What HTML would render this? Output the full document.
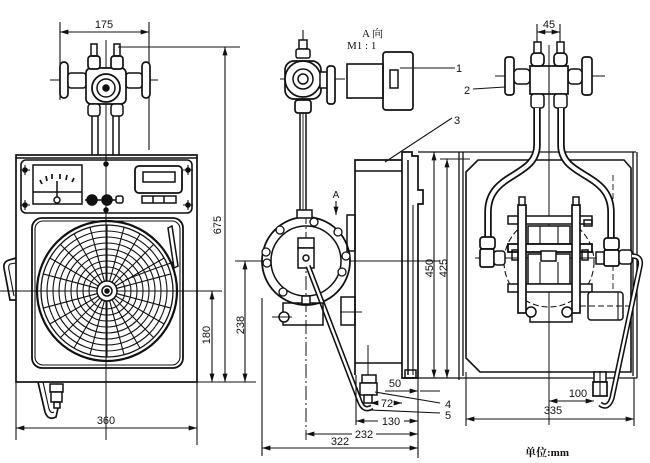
<!DOCTYPE html>
<html><head><meta charset="utf-8"><style>
html,body{margin:0;padding:0;background:#fff;}
svg{display:block;}
text{font-family:"Liberation Sans",sans-serif;font-size:11px;fill:#111;stroke:none;}
</style></head><body>
<svg width="650" height="463" viewBox="0 0 650 463" xmlns="http://www.w3.org/2000/svg">
<defs>
<marker id="ar" viewBox="0 0 10 6" refX="10" refY="3" markerWidth="9" markerHeight="5" markerUnits="userSpaceOnUse" orient="auto-start-reverse"><path d="M0,0 L10,3 L0,6 z" fill="#111"/></marker>
<line id="rl" x1="41" y1="291" x2="173" y2="291"/>
</defs>
<rect width="650" height="463" fill="#fff"/>
<g fill="none" stroke="#111" stroke-width="1.5">

<!-- ===== LEFT VIEW ===== -->
<line x1="60" y1="22" x2="60" y2="100" stroke-width="1.1"/>
<line x1="149" y1="22" x2="149" y2="150" stroke-width="1.1"/>
<line x1="60" y1="32" x2="149" y2="32" stroke-width="1.1" marker-start="url(#ar)" marker-end="url(#ar)"/>
<line x1="118" y1="47" x2="240" y2="47" stroke-width="1.1"/>
<line x1="225" y1="47" x2="225" y2="382" stroke-width="1.1" marker-start="url(#ar)" marker-end="url(#ar)"/>
<line x1="197" y1="382" x2="240" y2="382" stroke-width="1.1"/>
<line x1="212" y1="291" x2="212" y2="382" stroke-width="1.1" marker-start="url(#ar)" marker-end="url(#ar)"/>
<line x1="0" y1="291" x2="222" y2="291" stroke-width="1.1"/>
<line x1="106" y1="40" x2="106" y2="440" stroke-width="1"/>
<line x1="50" y1="80" x2="158" y2="80" stroke-width="1"/>

<!-- valve -->
<rect x="60" y="62" width="8" height="36" rx="4" fill="#fff" stroke-width="1.7"/>
<rect x="142" y="62" width="8" height="36" rx="4" fill="#fff" stroke-width="1.7"/>
<rect x="68" y="73" width="18" height="15" rx="3" fill="#fff"/>
<rect x="126" y="73" width="16" height="15" rx="3" fill="#fff"/>
<rect x="86" y="68" width="40" height="36" rx="5" fill="#fff" stroke-width="1.7"/>
<circle cx="106" cy="88" r="14" fill="#fff" stroke-width="1.8"/>
<circle cx="106" cy="88" r="9"/>
<circle cx="106" cy="88" r="3" fill="#111"/>
<rect x="88" y="56" width="12" height="13" rx="3" fill="#fff" stroke-width="1.7"/>
<rect x="111" y="56" width="12" height="13" rx="3" fill="#fff" stroke-width="1.7"/>
<rect x="91" y="44" width="6" height="12"/>
<rect x="114" y="44" width="6" height="12"/>
<rect x="88" y="104" width="12" height="12" rx="3" fill="#fff"/>
<rect x="111" y="104" width="12" height="12" rx="3" fill="#fff"/>
<line x1="92" y1="116" x2="92" y2="155"/><line x1="98" y1="116" x2="98" y2="155"/>
<line x1="113" y1="116" x2="113" y2="155"/><line x1="119" y1="116" x2="119" y2="155"/>

<!-- box -->
<rect x="16" y="155" width="181" height="227" stroke-width="1.7"/>
<line x1="16" y1="158" x2="197" y2="158"/>
<rect x="21" y="160" width="171" height="53" rx="5" stroke-width="1.6"/>
<rect x="33" y="165" width="49" height="39" fill="#fff"/>
<line x1="33" y1="192" x2="82" y2="192"/>
<path d="M40,180 L42,184 M46,176 L47,181 M52,174 L52,179 M60,174 L60,179 M67,175 L66,180 M74,178 L72,182" stroke-width="1.7"/>
<line x1="57" y1="181" x2="57" y2="197"/>
<circle cx="57" cy="200" r="3" fill="#fff"/>
<line x1="85" y1="200" x2="116" y2="200"/>
<circle cx="92" cy="200" r="5" fill="#111"/>
<circle cx="107" cy="200" r="5" fill="#111"/>
<rect x="116" y="196" width="7" height="7" rx="2" fill="#fff"/>
<rect x="135" y="166" width="47" height="27" rx="4" stroke-width="1.8"/>
<rect x="143" y="172" width="32" height="10"/>
<rect x="142" y="196" width="34" height="7"/>
<line x1="153" y1="196" x2="153" y2="203"/><line x1="164" y1="196" x2="164" y2="203"/>
<g fill="#111"><circle cx="25" cy="170" r="2"/><circle cx="25" cy="205" r="2"/><circle cx="188" cy="170" r="2"/><circle cx="188" cy="205" r="2"/><circle cx="106" cy="164" r="2"/><circle cx="106" cy="210" r="2"/></g>
<path d="M20,170 H30 M25,165 V175 M20,205 H30 M25,200 V210 M183,170 H193 M188,165 V175 M183,205 H193 M188,200 V210" stroke-width="1.1"/>

<!-- chart -->
<rect x="32" y="218" width="151" height="150" rx="10" stroke-width="1.8"/>
<rect x="35" y="221" width="145" height="144" rx="8" stroke-width="1.1"/>
<circle cx="107" cy="291" r="70" stroke-width="2.2"/>
<circle cx="107" cy="291" r="66" stroke-width="1.3"/>
<g stroke-width="1.1">
<circle cx="107" cy="291" r="60"/><circle cx="107" cy="291" r="54"/><circle cx="107" cy="291" r="48"/>
<circle cx="107" cy="291" r="42"/><circle cx="107" cy="291" r="36"/><circle cx="107" cy="291" r="30"/>
<circle cx="107" cy="291" r="24"/><circle cx="107" cy="291" r="18"/>
<use href="#rl"/>
<use href="#rl" transform="rotate(15 107 291)"/>
<use href="#rl" transform="rotate(30 107 291)"/>
<use href="#rl" transform="rotate(45 107 291)"/>
<use href="#rl" transform="rotate(60 107 291)"/>
<use href="#rl" transform="rotate(75 107 291)"/>
<use href="#rl" transform="rotate(90 107 291)"/>
<use href="#rl" transform="rotate(105 107 291)"/>
<use href="#rl" transform="rotate(120 107 291)"/>
<use href="#rl" transform="rotate(135 107 291)"/>
<use href="#rl" transform="rotate(150 107 291)"/>
<use href="#rl" transform="rotate(165 107 291)"/>
</g>
<circle cx="107" cy="291" r="10" fill="#fff" stroke-width="1.5"/>
<circle cx="107" cy="291" r="5"/>
<circle cx="107" cy="291" r="2" fill="#111"/>
<path d="M168,228 L172,226 L178,266 L174,268 Z" fill="#fff"/>
<path d="M174,262 Q150,270 125,280" stroke-width="1.1"/>
<!-- handle -->
<path d="M16,258 L9,260 Q3,262 4,268 L10,300 L16,300" stroke-width="1.7"/>
<path d="M16,263 L10,264 Q8,266 9,270 L14,296" stroke-width="1.1"/>
<!-- drain -->
<path d="M38,382 L45,412 Q48,421 56,417 L58,408" stroke-width="1.7"/>
<path d="M43,382 L49,409 Q51,414 54,412" stroke-width="1.1"/>
<rect x="50" y="384" width="13" height="8" fill="#fff"/>
<rect x="51" y="392" width="11" height="10" fill="#fff"/>
<rect x="54" y="402" width="6" height="6"/>
<!-- 360 -->
<line x1="16" y1="382" x2="16" y2="440" stroke-width="1.1"/>
<line x1="197" y1="382" x2="197" y2="445" stroke-width="1.1"/>
<line x1="16" y1="428" x2="197" y2="428" stroke-width="1.1" marker-start="url(#ar)" marker-end="url(#ar)"/>

<!-- ===== MIDDLE VIEW ===== -->
<line x1="303" y1="30" x2="303" y2="42" stroke-width="1.1"/>
<line x1="280" y1="79" x2="345" y2="79" stroke-width="1"/>
<rect x="299" y="40" width="8" height="9" fill="#fff"/>
<rect x="296" y="49" width="14" height="9" rx="2" fill="#fff"/>
<rect x="285" y="61" width="36" height="38" rx="9" fill="#fff" stroke-width="1.7"/>
<circle cx="303" cy="79" r="18" fill="#fff" stroke-width="1.7"/>
<circle cx="303" cy="79" r="10"/>
<circle cx="303" cy="79" r="5"/>
<rect x="320" y="72" width="8" height="16" fill="#fff"/>
<rect x="327" y="66" width="8" height="38" rx="3" fill="#fff" stroke-width="1.7"/>
<rect x="295" y="100" width="16" height="13" rx="3" fill="#fff" stroke-width="1.7"/>
<line x1="300" y1="113" x2="300" y2="228"/><line x1="306" y1="113" x2="306" y2="228"/>
<line x1="303" y1="113" x2="303" y2="228" stroke-width="0.9"/>

<!-- A view block -->
<rect x="347" y="64" width="36" height="34" stroke-width="1.6"/>
<rect x="383" y="52" width="30" height="58" rx="3" stroke-width="1.7"/>
<rect x="390" y="70" width="8" height="18"/>
<line x1="400" y1="68" x2="455" y2="68" stroke-width="1.1"/>

<!-- flange -->
<line x1="235" y1="261" x2="440" y2="261" stroke-width="1"/>
<circle cx="306" cy="261" r="44" fill="#fff" stroke-width="1.8"/>
<circle cx="306" cy="261" r="35" stroke-width="1.5"/>
<g stroke-width="1.3" fill="#fff">
<circle cx="346" cy="256" r="4"/><circle cx="338" cy="232" r="4"/><circle cx="314" cy="222" r="4"/>
<circle cx="280" cy="230" r="4"/><circle cx="266" cy="252" r="4"/><circle cx="267" cy="263" r="4"/>
<circle cx="283" cy="292" r="4"/><circle cx="342" cy="272" r="4"/>
</g>
<line x1="306" y1="210" x2="306" y2="440" stroke-width="1" stroke-dasharray="14 3 2 3"/>
<rect x="297" y="210" width="15" height="8" fill="#fff"/>
<rect x="298" y="238" width="16" height="10" fill="#fff"/>
<rect x="298" y="248" width="16" height="20" fill="#fff"/>
<circle cx="306" cy="258" r="3"/>
<path d="M308,266 L360,402 Q364,412 372,407" stroke-width="5.5"/>
<path d="M308,266 L360,402 Q364,412 372,407" stroke="#fff" stroke-width="2.4"/>
<rect x="283" y="303" width="40" height="22"/>
<rect x="302" y="296" width="8" height="8" fill="#fff"/>
<circle cx="284" cy="317" r="5" fill="#fff"/>
<line x1="272" y1="317" x2="292" y2="317" stroke-width="1.1"/>

<!-- body -->
<path d="M355,375 L355,160 L402,160" stroke-width="1.7"/>
<line x1="355" y1="171" x2="402" y2="171"/>
<line x1="355" y1="363" x2="402" y2="363"/>
<path d="M402,378 L402,152 L412,152 L412,156 L418,156 L418,190 L423,190 L423,204 L418,204 L418,378 Z" stroke-width="1.7"/>
<line x1="408" y1="160" x2="408" y2="375"/>
<line x1="413" y1="205" x2="413" y2="375" stroke-width="1.1"/>
<rect x="405" y="370" width="11" height="8"/>
<rect x="347" y="215" width="8" height="36"/>
<rect x="341" y="297" width="14" height="28"/>
<line x1="340" y1="312" x2="362" y2="312" stroke-width="1.1"/>
<rect x="362" y="375" width="14" height="8" fill="#fff"/>
<rect x="360" y="383" width="17" height="12" fill="#fff"/>
<rect x="364" y="395" width="8" height="8" fill="#fff"/>
<line x1="368" y1="345" x2="368" y2="375" stroke-width="1"/>
<line x1="336" y1="201" x2="336" y2="215" stroke-width="1.1" marker-end="url(#ar)"/>

<!-- leaders -->
<line x1="385" y1="162" x2="452" y2="118" stroke-width="1.1"/>
<line x1="375" y1="392" x2="440" y2="403" stroke-width="1.1"/>
<line x1="370" y1="410" x2="440" y2="413" stroke-width="1.1"/>

<!-- middle dims -->
<line x1="262" y1="298" x2="262" y2="456" stroke-width="1.1"/>
<line x1="245" y1="261" x2="245" y2="382" stroke-width="1.1" marker-start="url(#ar)" marker-end="url(#ar)"/>
<line x1="230" y1="382" x2="256" y2="382" stroke-width="1.1"/>
<line x1="418" y1="152" x2="636" y2="152" stroke-width="1.3"/>
<line x1="440" y1="159" x2="470" y2="159" stroke-width="1.1"/>
<line x1="418" y1="378" x2="637" y2="378" stroke-width="1.3"/>
<line x1="434" y1="152" x2="434" y2="378" stroke-width="1.1" marker-start="url(#ar)" marker-end="url(#ar)"/>
<line x1="447" y1="159" x2="447" y2="378" stroke-width="1.1" marker-start="url(#ar)" marker-end="url(#ar)"/>
<line x1="418" y1="378" x2="418" y2="458" stroke-width="1.1"/>
<line x1="356" y1="375" x2="356" y2="425" stroke-width="1.1"/>
<line x1="385" y1="391" x2="418" y2="391" stroke-width="1.1" marker-end="url(#ar)"/>
<line x1="440" y1="391" x2="420" y2="391" stroke-width="1.1"/>
<line x1="370" y1="403" x2="378" y2="403" stroke-width="1.1" marker-start="url(#ar)"/>
<line x1="396" y1="403" x2="402" y2="403" stroke-width="1.1" marker-end="url(#ar)"/>
<line x1="356" y1="421" x2="378" y2="421" stroke-width="1.1" marker-start="url(#ar)"/>
<line x1="404" y1="421" x2="418" y2="421" stroke-width="1.1" marker-end="url(#ar)"/>
<line x1="306" y1="434" x2="352" y2="434" stroke-width="1.1" marker-start="url(#ar)"/>
<line x1="376" y1="434" x2="418" y2="434" stroke-width="1.1" marker-end="url(#ar)"/>
<line x1="262" y1="448" x2="418" y2="448" stroke-width="1.1" marker-start="url(#ar)" marker-end="url(#ar)"/>

<!-- ===== RIGHT VIEW ===== -->
<line x1="537" y1="24" x2="537" y2="50" stroke-width="1.1"/>
<line x1="560" y1="24" x2="560" y2="50" stroke-width="1.1"/>
<line x1="537" y1="32" x2="560" y2="32" stroke-width="1.1" marker-start="url(#ar)" marker-end="url(#ar)"/>
<line x1="549" y1="45" x2="549" y2="425" stroke-width="1"/>
<line x1="495" y1="76" x2="605" y2="76" stroke-width="1"/>
<line x1="473" y1="89" x2="505" y2="87" stroke-width="1.1"/>
<rect x="505" y="57" width="9" height="38" rx="3" fill="#fff" stroke-width="1.7"/>
<rect x="582" y="57" width="10" height="38" rx="3" fill="#fff" stroke-width="1.7"/>
<rect x="514" y="69" width="16" height="15" rx="4" fill="#fff"/>
<rect x="568" y="69" width="14" height="15" rx="4" fill="#fff"/>
<rect x="530" y="66" width="38" height="28" fill="#fff" stroke-width="1.7"/>
<line x1="549" y1="66" x2="549" y2="94" stroke-width="1.1"/>
<rect x="531" y="53" width="13" height="13" rx="4" fill="#fff" stroke-width="1.7"/>
<rect x="554" y="53" width="13" height="13" rx="4" fill="#fff" stroke-width="1.7"/>
<rect x="534" y="42" width="7" height="11" fill="#fff"/>
<rect x="557" y="42" width="7" height="11" fill="#fff"/>
<rect x="531" y="94" width="13" height="14" rx="3" fill="#fff"/>
<rect x="554" y="94" width="13" height="14" rx="3" fill="#fff"/>

<!-- box -->
<line x1="459" y1="152" x2="459" y2="380" stroke-width="1.3"/>
<line x1="463" y1="152" x2="463" y2="376" stroke-width="1.3"/>
<line x1="633" y1="152" x2="633" y2="376" stroke-width="1.3"/>
<line x1="637" y1="152" x2="637" y2="378" stroke-width="1.3"/>
<path d="M466,172 L478,160 L624,160 L631,168 L631,372 L480,372 L466,358 Z" stroke-width="1.6"/>
<line x1="613" y1="175" x2="613" y2="300" stroke-width="0.9" stroke-dasharray="6 3"/>

<!-- pipes -->
<path d="M537,108 L537,145 C537,178 488,172 488,212 L488,238" stroke-width="7.5"/>
<path d="M537,108 L537,145 C537,178 488,172 488,212 L488,238" stroke="#fff" stroke-width="4"/>
<path d="M561,108 L561,145 C561,178 611,172 611,212 L611,238" stroke-width="7.5"/>
<path d="M561,108 L561,145 C561,178 611,172 611,212 L611,238" stroke="#fff" stroke-width="4"/>

<!-- assembly -->
<line x1="475" y1="258" x2="640" y2="258" stroke-width="1"/>
<circle cx="549" cy="262" r="45" stroke-width="1.1" stroke-dasharray="6 3"/>
<rect x="528" y="226" width="42" height="18" fill="#fff"/>
<rect x="528" y="254" width="42" height="30" fill="#fff"/>
<line x1="540" y1="226" x2="540" y2="244" stroke-width="1.1"/><line x1="558" y1="226" x2="558" y2="244" stroke-width="1.1"/>
<line x1="540" y1="262" x2="540" y2="284" stroke-width="1.1"/><line x1="558" y1="262" x2="558" y2="284" stroke-width="1.1"/>
<rect x="508" y="216" width="84" height="8" fill="#fff"/>
<rect x="508" y="244" width="84" height="8" fill="#fff" stroke-width="1.8"/>
<rect x="508" y="284" width="84" height="8" fill="#fff"/>
<rect x="518" y="205" width="8" height="108" fill="#fff" stroke-width="1.7"/>
<rect x="572" y="205" width="8" height="108" fill="#fff" stroke-width="1.7"/>
<rect x="519" y="197" width="6" height="8" fill="#fff"/>
<rect x="573" y="197" width="6" height="8" fill="#fff"/>
<rect x="541" y="251" width="15" height="10" fill="#fff"/>
<rect x="512" y="250" width="6" height="10"/>
<rect x="582" y="250" width="6" height="10"/>
<rect x="584" y="220" width="8" height="6"/>
<path d="M530,312 L530,322 L572,322 L572,312"/>
<circle cx="531" cy="312" r="5" fill="#fff"/>
<circle cx="567" cy="312" r="5" fill="#fff"/>
<!-- fittings -->
<rect x="480" y="237" width="15" height="12" rx="3" fill="#fff" stroke-width="1.7"/>
<rect x="480" y="249" width="14" height="18" rx="2" fill="#fff" stroke-width="1.7"/>
<rect x="494" y="251" width="11" height="14" rx="3" fill="#fff"/>
<rect x="604" y="238" width="15" height="12" rx="3" fill="#fff" stroke-width="1.7"/>
<rect x="604" y="250" width="15" height="16" rx="2" fill="#fff" stroke-width="1.7"/>
<rect x="596" y="252" width="8" height="12" fill="#fff"/>
<rect x="619" y="250" width="13" height="14" rx="3" fill="#fff"/>
<path d="M632,256 Q642,256 640,266 L612,398 Q608,410 600,404" stroke-width="5.5"/>
<path d="M632,256 Q642,256 640,266 L612,398 Q608,410 600,404" stroke="#fff" stroke-width="2.4"/>
<rect x="588" y="292" width="35" height="28" rx="3" fill="#fff"/>
<line x1="618" y1="292" x2="618" y2="320" stroke-width="1.1"/>
<line x1="580" y1="306" x2="630" y2="306" stroke-width="0.9" stroke-dasharray="6 3"/>
<rect x="594" y="372" width="12" height="10" fill="#fff"/>
<rect x="593" y="382" width="14" height="14" fill="#fff" stroke-width="1.7"/>
<line x1="600" y1="372" x2="600" y2="396" stroke-width="1.1"/>
<!-- right dims -->
<line x1="466" y1="372" x2="466" y2="426" stroke-width="1.1"/>
<line x1="634" y1="378" x2="634" y2="426" stroke-width="1.1"/>
<line x1="466" y1="419" x2="634" y2="419" stroke-width="1.1" marker-start="url(#ar)" marker-end="url(#ar)"/>
<line x1="549" y1="401" x2="594" y2="401" stroke-width="1.1" marker-start="url(#ar)" marker-end="url(#ar)"/>
</g>

<!-- ===== TEXT ===== -->
<text x="104" y="28" text-anchor="middle">175</text>
<text x="221" y="225" text-anchor="middle" transform="rotate(-90 221 225)">675</text>
<text x="210" y="335" text-anchor="middle" transform="rotate(-90 210 335)">180</text>
<text x="106" y="424" text-anchor="middle">360</text>
<text x="244" y="325" text-anchor="middle" transform="rotate(-90 244 325)">238</text>
<text x="433" y="268" text-anchor="middle" transform="rotate(-90 433 268)">450</text>
<text x="447" y="268" text-anchor="middle" transform="rotate(-90 447 268)">425</text>
<text x="362" y="37" style="font-family:'Liberation Serif','Noto Serif CJK SC',serif;font-size:11px">A 向</text>
<text x="347" y="49" style="font-family:'Liberation Serif',serif;font-size:11px">M1 : 1</text>
<text x="336" y="198" text-anchor="middle" style="font-size:10px">A</text>
<text x="456" y="72">1</text>
<text x="454" y="124">3</text>
<text x="464" y="94">2</text>
<text x="445" y="408">4</text>
<text x="445" y="419">5</text>
<text x="395" y="387" text-anchor="middle">50</text>
<text x="387" y="407" text-anchor="middle">72</text>
<text x="391" y="425" text-anchor="middle">130</text>
<text x="364" y="438" text-anchor="middle">232</text>
<text x="340" y="445" text-anchor="middle">322</text>
<text x="549" y="28" text-anchor="middle">45</text>
<text x="578" y="397" text-anchor="middle">100</text>
<text x="553" y="414" text-anchor="middle">335</text>
<text x="547" y="456" text-anchor="middle" style="font-family:'Liberation Serif','Noto Serif CJK SC',serif;font-size:11px;font-weight:bold">单位:mm</text>
</svg>
</body></html>
